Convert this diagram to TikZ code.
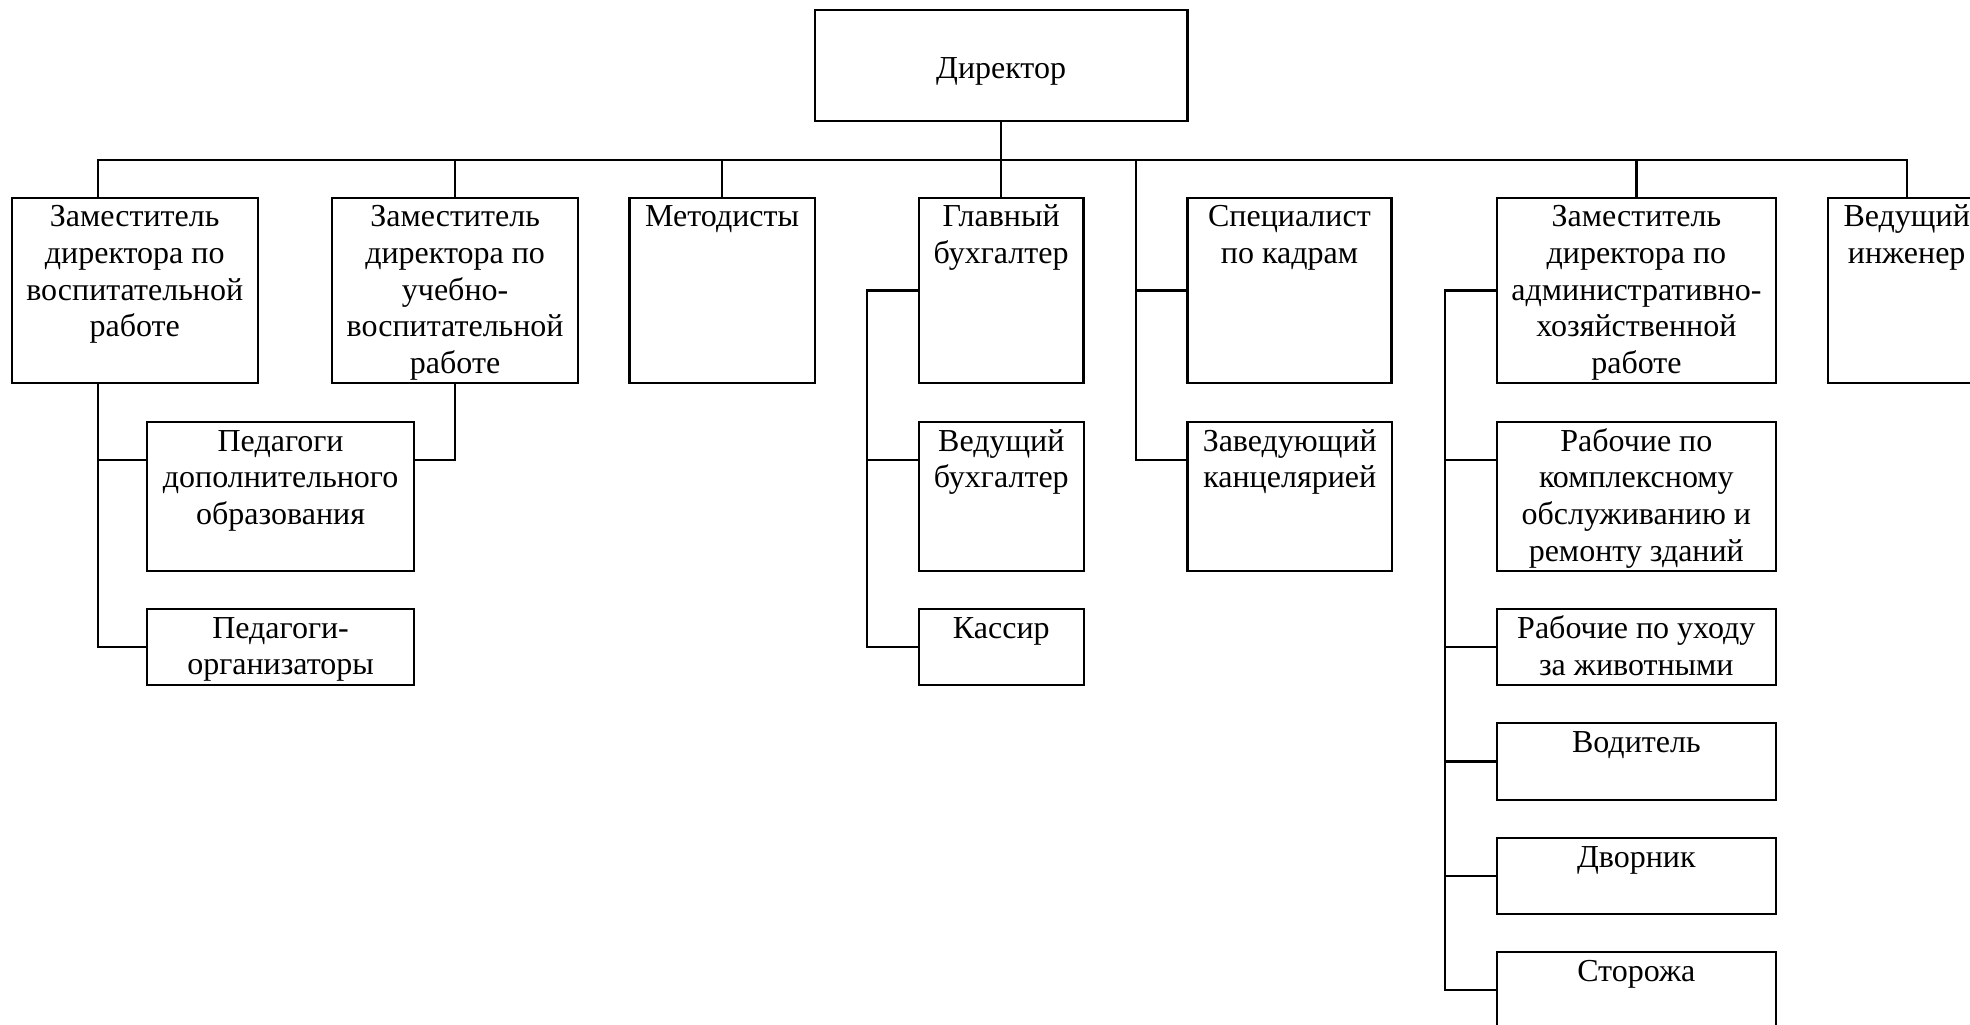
\documentclass[tikz,border=0pt]{standalone}
\usepackage{fontspec}
\setmainfont{Liberation Serif}
\tikzset{
  orgbox/.style={draw, line width=1.1pt, rectangle, inner sep=0pt, outer sep=0pt, anchor=north west},
  link/.style={line width=1.1pt, line cap=rect}
}
\newcommand{\orgbox}[7]{% name, x1, y1, x2, y2, first-baseline (pt), text
  \pgfmathsetmacro{\bw}{(#4-#2)*0.5}%
  \pgfmathsetmacro{\bh}{(#5-#3)*0.5}%
  \node[orgbox] (#1) at (#2,#3) {\parbox[c][\bh pt][t]{\bw pt}{\fontsize{16pt}{18.35pt}\selectfont\centering\rule{0pt}{#6pt}#7\par}};
}
\begin{document}
\begin{tikzpicture}[x=0.5pt,y=-0.5pt]
\useasboundingbox (0,0) rectangle (1970,1024);
\clip (0,0) rectangle (1970,1024);
% top
\orgbox{dir}{814.7}{10}{1187.5}{121}{34}{Директор}
% level 1
\orgbox{zvr}{11.8}{198}{257.6}{383}{14.4}{Заместитель\\директора по\\воспитательной\\работе}
\orgbox{zuvr}{332.2}{198}{578}{383}{14.4}{Заместитель\\директора по\\учебно-\\воспитательной\\работе}
\orgbox{meth}{629.5}{198}{814.7}{383}{14.4}{Методисты}
\orgbox{gb}{918.7}{198}{1083.5}{383}{14.4}{Главный\\бухгалтер}
\orgbox{spec}{1187.5}{198}{1391.4}{383}{14.4}{Специалист\\по кадрам}
\orgbox{zahr}{1497}{198}{1775.8}{383}{14.4}{Заместитель\\директора по\\административно-\\хозяйственной\\работе}
\orgbox{veng}{1827.7}{198}{1985.7}{383}{14.4}{Ведущий\\инженер}
% level 2
\orgbox{pdo}{146.9}{422}{414.3}{570.7}{14.6}{Педагоги\\дополнительного\\образования}
\orgbox{porg}{146.9}{609}{414.3}{684.7}{14.6}{Педагоги-\\организаторы}
\orgbox{vb}{918.7}{422}{1083.9}{570.7}{14.6}{Ведущий\\бухгалтер}
\orgbox{kas}{918.7}{609}{1083.9}{684.7}{14.6}{Кассир}
\orgbox{zk}{1187.5}{422}{1392}{570.7}{14.6}{Заведующий\\канцелярией}
\orgbox{rk}{1496.7}{422}{1775.9}{570.6}{14.6}{Рабочие по\\комплексному\\обслуживанию и\\ремонту зданий}
\orgbox{ru}{1496.7}{609.2}{1775.9}{684.7}{14.6}{Рабочие по уходу\\за животными}
\orgbox{vod}{1496.7}{723.3}{1775.9}{799.7}{14.6}{Водитель}
\orgbox{dvor}{1496.7}{838.3}{1775.9}{913.9}{14.6}{Дворник}
\orgbox{stor}{1496.7}{952.1}{1775.9}{1090}{14.6}{Сторожа}
% attach points
\coordinate (zvrT) at ([xshift=42.95pt]zvr.north west);
\coordinate (zvrB) at ([xshift=42.95pt]zvr.south west);
\coordinate (pdoL) at ([yshift=-19pt]pdo.north west);
\coordinate (pdoR) at ([yshift=-19pt]pdo.north east);
\coordinate (vbL) at ([yshift=-19pt]vb.north west);
\coordinate (zkL) at ([yshift=-19pt]zk.north west);
\coordinate (rkL) at ([yshift=-19pt]rk.north west);
\coordinate (storL) at ([yshift=-19pt]stor.north west);
% director and bus
\draw[link] (dir.south) -- (gb.north);
\draw[link] (zvrT) -- ++(0,-38) -| (veng.north);
\draw[link] (zuvr.north) -- ++(0,-38);
\draw[link] (meth.north) -- ++(0,-38);
\draw[link] (zahr.north) -- ++(0,-38);
% left branch
\draw[link] (zvrB) |- (porg.west);
\draw[link] (pdoL) -- (pdoL -| zvrB);
\draw[link] (zuvr.south) |- (pdoR);
% accounting
\draw[link] (gb.west) -- ++(-51.7,0) |- (kas.west);
\draw[link] (vbL) -- ++(-51.7,0);
% personnel
\draw[link] (spec.north west) ++(-51.8,-38) |- (zkL);
\draw[link] (spec.west) -- ++(-51.8,0);
% administrative
\draw[link] (zahr.west) -- ++(-52,0) |- (storL);
\draw[link] (rkL) -- ++(-51.7,0);
\draw[link] (ru.west) -- ++(-51.7,0);
\draw[link] (vod.west) -- ++(-51.7,0);
\draw[link] (dvor.west) -- ++(-51.7,0);
\end{tikzpicture}
\end{document}
